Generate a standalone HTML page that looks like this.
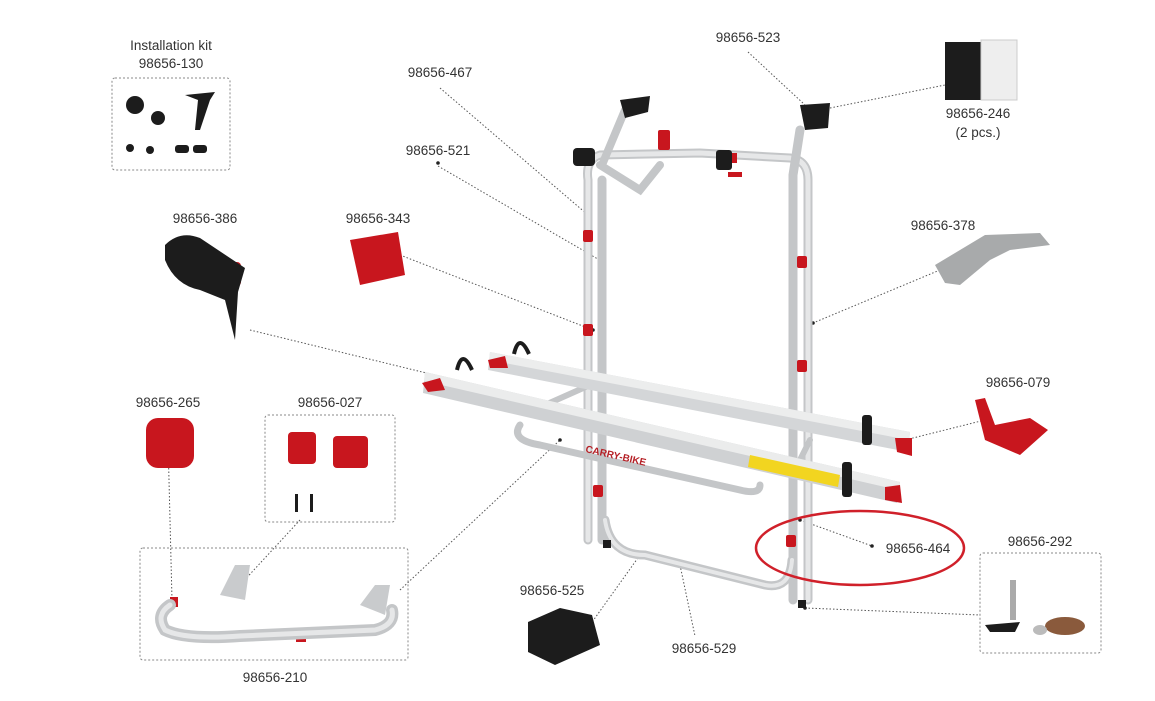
<!DOCTYPE html>
<html><head><meta charset="utf-8"><style>
html,body{margin:0;padding:0;background:#fff;width:1155px;height:701px;overflow:hidden}
svg{display:block}
text{font-family:"Liberation Sans",sans-serif;font-size:13.5px;fill:#333}
.d{stroke:#555;stroke-width:1;stroke-dasharray:1.5 2;fill:none}
.b{stroke:#888;stroke-width:1;stroke-dasharray:2 2;fill:none}
.t{stroke:#c4c6c8;fill:none;stroke-linecap:round}
.t2{stroke:#e6e7e8;fill:none;stroke-linecap:round}
.r{fill:#c8161e}
</style></head><body>
<svg width="1155" height="701" viewBox="0 0 1155 701">
<rect class="b" x="112" y="78" width="118" height="92" rx="3"/>
<rect class="b" x="265" y="415" width="130" height="107" rx="3"/>
<rect class="b" x="140" y="548" width="268" height="112" rx="3"/>
<rect class="b" x="980" y="553" width="121" height="100" rx="3"/>

<g class="d">
<path d="M440 88 L588 215"/>
<path d="M438 166 L603 262"/>
<path d="M748 52 L805 105"/>
<path d="M830 108 L945 85"/>
<path d="M400 255 L593 330"/>
<path d="M250 330 L455 380"/>
<path d="M940 270 L813 323"/>
<path d="M985 420 L905 440"/>
<path d="M168 440 L172 600"/>
<path d="M300 520 L240 585"/>
<path d="M400 590 L560 440"/>
<path d="M800 520 L872 546"/>
<path d="M805 608 L980 615"/>
<path d="M640 555 L590 625"/>
<path d="M680 565 L695 636"/>
</g>
<g fill="#222">
<circle cx="588" cy="215" r="1.8"/><circle cx="603" cy="262" r="1.8"/><circle cx="593" cy="330" r="1.8"/><circle cx="813" cy="323" r="1.8"/><circle cx="872" cy="546" r="1.8"/><circle cx="800" cy="520" r="1.8"/><circle cx="560" cy="440" r="1.8"/><circle cx="680" cy="565" r="1.8"/><circle cx="805" cy="608" r="1.8"/><circle cx="438" cy="163" r="1.8"/>
</g>

<g>
<path class="t" stroke-width="9" d="M588 540 L588 180 Q585 160 600 155 L700 153 L790 158 Q808 160 808 180 L808 600"/>
<path class="t2" stroke-width="5" d="M588 540 L588 180 Q585 160 600 155 L700 153 L790 158 Q808 160 808 180 L808 600"/>
<path class="t" stroke-width="9" d="M602 540 L602 180"/>
<path class="t" stroke-width="9" d="M793 600 L793 175 L800 130"/>
<path class="t" stroke-width="8" d="M602 165 L625 110 M600 165 L640 190 L660 165"/>
<path class="t" stroke-width="9" d="M605 520 Q610 555 645 555 L765 585 Q790 590 792 560"/>
<path class="t2" stroke-width="4" d="M605 520 Q610 555 645 555 L765 585 Q790 590 792 560"/>
<path class="t" stroke-width="7" d="M520 425 Q510 440 540 445 L740 490 Q760 495 760 485"/>
<path class="t" stroke-width="6" d="M545 405 L590 385 M795 470 L810 440"/>
<path d="M490 352 L910 432 L908 452 L488 370 Z" fill="#d4d6d8"/>
<path d="M490 352 L910 432 L909 440 L489 360 Z" fill="#eceded"/>
<path d="M425 372 L900 482 L897 503 L423 393 Z" fill="#cfd1d3"/>
<path d="M425 372 L900 482 L898 490 L424 381 Z" fill="#ebecec"/>
<path d="M750 455 L840 475 L838 487 L748 467 Z" fill="#f2d520"/>
<text x="585" y="452" transform="rotate(13 585 452)" style="font-size:10px;fill:#b52026;font-weight:bold">CARRY-BIKE</text>
</g>
<g class="r">
<rect x="583" y="230" width="10" height="12" rx="2"/><rect x="583" y="324" width="10" height="12" rx="2"/>
<rect x="797" y="256" width="10" height="12" rx="2"/><rect x="797" y="360" width="10" height="12" rx="2"/>
<rect x="593" y="485" width="10" height="12" rx="2"/><rect x="786" y="535" width="10" height="12" rx="2"/>
<rect x="658" y="130" width="12" height="20" rx="2"/><rect x="725" y="153" width="12" height="10"/><rect x="728" y="172" width="14" height="5"/>
<path d="M422 383 L440 378 L445 390 L428 392Z"/><path d="M488 360 L505 356 L508 368 L490 368Z"/>
<path d="M895 438 L912 438 L912 456 L897 452Z"/><path d="M885 487 L900 485 L902 503 L885 500Z"/>
<path d="M975 400 L985 398 L995 425 L1030 418 L1048 430 L1020 455 L985 440Z"/>
<rect x="146" y="418" width="48" height="50" rx="12"/>
<path d="M350 240 L398 232 L405 275 L360 285Z"/>
<rect x="213" y="262" width="28" height="24" rx="4"/>
<rect x="288" y="432" width="28" height="32" rx="4"/><rect x="333" y="436" width="35" height="32" rx="4"/>
<rect x="170" y="597" width="8" height="10"/><rect x="296" y="630" width="10" height="12"/>
</g>
<g fill="#1c1c1c">
<path d="M620 100 L650 96 L648 112 L625 118Z"/><path d="M800 105 L830 103 L828 128 L805 130Z"/>
<rect x="573" y="148" width="22" height="18" rx="4"/><rect x="716" y="150" width="16" height="20" rx="3"/>
<path d="M457 370 q5 -22 15 0" stroke="#1c1c1c" stroke-width="4" fill="none"/>
<path d="M514 354 q5 -22 15 0" stroke="#1c1c1c" stroke-width="4" fill="none"/>
<rect x="862" y="415" width="10" height="30" rx="3"/><rect x="842" y="462" width="10" height="35" rx="3"/>
<path d="M165 245 Q180 230 200 238 L245 268 L238 292 L235 340 L225 300 L200 290 Q175 285 165 260Z"/>
<path d="M528 622 L560 608 L592 615 L600 645 L555 665 L528 652Z"/>
<rect x="945" y="42" width="36" height="58"/>
<rect x="603" y="540" width="8" height="8"/><rect x="798" y="600" width="8" height="8"/>
<path d="M985 625 L1020 622 L1015 632 L990 632Z"/>
<rect x="295" y="494" width="3" height="18"/><rect x="310" y="494" width="3" height="18"/>
<circle cx="135" cy="105" r="9"/><circle cx="158" cy="118" r="7"/><circle cx="130" cy="148" r="4"/><circle cx="150" cy="150" r="4"/>
<rect x="175" y="145" width="14" height="8" rx="3"/><rect x="193" y="145" width="14" height="8" rx="3"/>
<path d="M185 95 L215 92 L210 100 L200 130 L195 130 L198 100Z"/>
</g>
<rect x="981" y="40" width="36" height="60" fill="#eee" stroke="#ccc"/>
<path d="M935 265 L985 235 L1040 233 L1050 245 L1010 250 L990 260 L960 285 L945 283Z" fill="#a8aaab"/>
<path d="M1010 580 L1016 580 L1016 620 L1010 620Z" fill="#aaa"/>
<ellipse cx="1065" cy="626" rx="20" ry="9" fill="#8a5a3c"/>
<ellipse cx="1040" cy="630" rx="7" ry="5" fill="#bbb"/>
<path class="t" stroke-width="12" d="M170 605 Q155 615 165 630 Q185 640 240 636 L375 630 Q395 625 392 610"/>
<path class="t2" stroke-width="5" d="M170 605 Q155 615 165 630 Q185 640 240 636 L375 630 Q395 625 392 610"/>
<path d="M220 595 L235 565 L250 565 L245 600Z M360 605 L375 585 L390 585 L385 615Z" fill="#c9cbcd"/>
<ellipse cx="860" cy="548" rx="104" ry="37" fill="none" stroke="#d0202a" stroke-width="2.5"/>

<g text-anchor="middle">
<text x="171" y="50">Installation kit</text><text x="171" y="68">98656-130</text>
<text x="440" y="77">98656-467</text>
<text x="748" y="42">98656-523</text>
<text x="978" y="118">98656-246</text><text x="978" y="137">(2 pcs.)</text>
<text x="438" y="155">98656-521</text>
<text x="205" y="223">98656-386</text>
<text x="378" y="223">98656-343</text>
<text x="943" y="230">98656-378</text>
<text x="1018" y="387">98656-079</text>
<text x="168" y="407">98656-265</text>
<text x="330" y="407">98656-027</text>
<text x="918" y="553">98656-464</text>
<text x="1040" y="546">98656-292</text>
<text x="552" y="595">98656-525</text>
<text x="704" y="653">98656-529</text>
<text x="275" y="682">98656-210</text>
</g>
</svg>
</body></html>
